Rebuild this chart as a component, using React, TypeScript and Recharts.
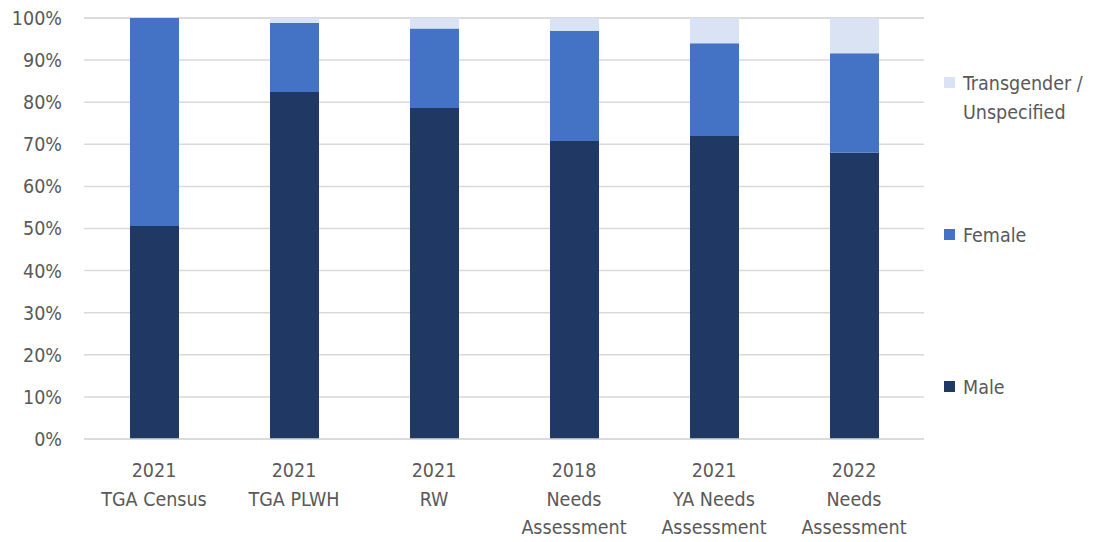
import { BarChart, Bar, XAxis, YAxis, CartesianGrid, Legend } from 'recharts'

const categories = [
  '2021\nTGA Census',
  '2021\nTGA PLWH',
  '2021\nRW',
  '2018\nNeeds\nAssessment',
  '2021\nYA Needs\nAssessment',
  '2022\nNeeds\nAssessment',
]
const male = [50.6, 82.4, 78.6, 70.8, 72.0, 68.0]
const female = [49.4, 16.4, 18.9, 26.2, 22.0, 23.6]
const transgender = [0, 1.2, 2.5, 3.0, 6.0, 8.4]
const yTicks = [0, 10, 20, 30, 40, 50, 60, 70, 80, 90, 100]

const data = categories.map((name, i) => ({
  name,
  male: male[i],
  female: female[i],
  trans: transgender[i],
}))

const FONT = '"Liberation Sans Narrow", "DejaVu Sans Condensed", sans-serif'
const TEXT = '#595959'
const FS = 19.5

const legendItems = [
  { label: ['Transgender /', 'Unspecified'], color: '#DAE3F3', top: 69 },
  { label: ['Female'], color: '#4472C4', top: 221 },
  { label: ['Male'], color: '#1F3864', top: 373 },
]

function XTick({ x, y, payload }: any) {
  const lines = String(payload.value).split('\n')
  return (
    <text x={x} y={y} textAnchor="middle" fill={TEXT} fontSize={FS} fontFamily={FONT}>
      {lines.map((l, i) => (
        <tspan key={i} x={x} dy={i === 0 ? 30 : 28.5}>
          {l}
        </tspan>
      ))}
    </text>
  )
}

function LegendBox() {
  return (
    <div style={{ position: 'absolute', left: 944, top: 0, fontFamily: FONT, color: TEXT, fontSize: FS }}>
      {legendItems.map((it) => (
        <div key={it.label[0]} style={{ position: 'absolute', top: it.top, left: 0, width: 150 }}>
          <div
            style={{ position: 'absolute', left: 0, top: 8, width: 11, height: 11, background: it.color }}
          />
          <div style={{ position: 'absolute', left: 19, top: 0, lineHeight: '29px', whiteSpace: 'nowrap' }}>
            {it.label.map((l) => (
              <div key={l}>{l}</div>
            ))}
          </div>
        </div>
      ))}
    </div>
  )
}

export default function App() {
  return (
    <div style={{ position: 'absolute', left: 0, top: 0, width: 1099, height: 542, background: '#fff' }}>
      <BarChart
        width={1099}
        height={542}
        data={data}
        margin={{ top: 18, right: 175, left: 0, bottom: 0 }}
        barSize={49}
      >
        <CartesianGrid vertical={false} stroke="#d9d9d9" strokeWidth={1.5} />
        <XAxis
          dataKey="name"
          height={103}
          tick={<XTick />}
          tickLine={false}
          axisLine={{ stroke: '#d9d9d9', strokeWidth: 1.5 }}
          interval={0}
        />
        <YAxis
          width={84}
          domain={[0, 100]}
          ticks={yTicks}
          tickFormatter={(v) => `${v}%`}
          tickLine={false}
          axisLine={false}
          tickSize={0}
          tickMargin={22}
          tick={{ fill: TEXT, fontSize: FS, fontFamily: FONT }}
        />
        <Legend content={() => null} />
        <Bar dataKey="male" stackId="a" fill="#1F3864" isAnimationActive={false} />
        <Bar dataKey="female" stackId="a" fill="#4472C4" isAnimationActive={false} />
        <Bar dataKey="trans" stackId="a" fill="#DAE3F3" isAnimationActive={false} />
      </BarChart>
      <LegendBox />
    </div>
  )
}
